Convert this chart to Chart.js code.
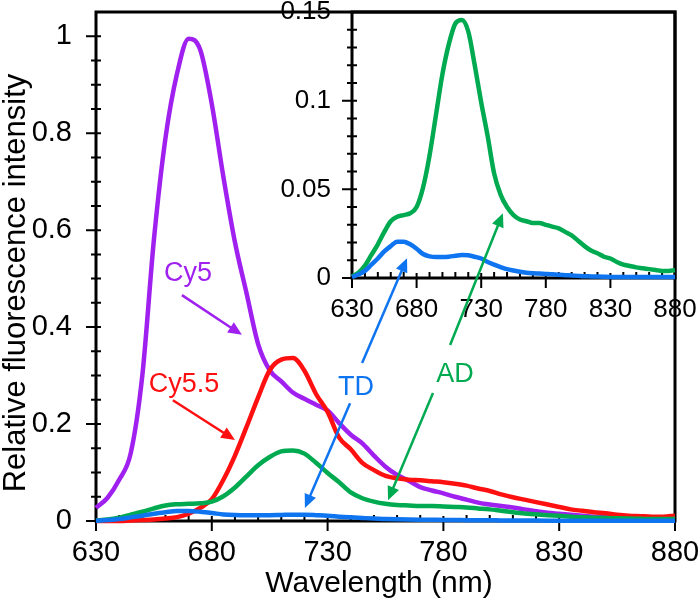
<!DOCTYPE html>
<html>
<head>
<meta charset="utf-8">
<script src="https://cdn.jsdelivr.net/npm/chart.js@4/dist/chart.umd.min.js"></script>
<style>
  html, body { margin: 0; padding: 0; background: #fff; }
  #wrap { position: relative; width: 700px; height: 601px; }
  #wrap canvas { position: absolute; left: 0; top: 0; }
</style>
</head>
<body>
<div id="wrap">
  <canvas id="mainChart" width="700" height="601"></canvas>
  <canvas id="insetChart" width="700" height="601"></canvas>
</div>
<script>
// Emission spectra, every 5 nm
const wavelengths = [630,635,640,645,650,655,660,665,670,675,680,685,690,695,700,705,710,715,720,725,
  730,735,740,745,750,755,760,765,770,775,780,785,790,795,800,805,810,815,820,825,
  830,835,840,845,850,855,860,865,870,875,880];

const cy5 = [0.027,0.048,0.085,0.14,0.30,0.58,0.79,0.923,0.995,0.972,0.86,0.71,0.575,0.47,0.365,0.311,0.288,0.265,0.252,0.24,
  0.228,0.202,0.178,0.16,0.135,0.112,0.095,0.083,0.07,0.063,0.057,0.05,0.044,0.038,0.034,0.031,0.028,0.024,0.02,0.017,
  0.015,0.013,0.011,0.009,0.008,0.007,0.006,0.005,0.005,0.004,0.004];

const cy55 = [0.0,0.0,0.0,0.001,0.002,0.003,0.005,0.008,0.015,0.027,0.045,0.085,0.135,0.194,0.255,0.311,0.333,0.336,0.31,0.262,
  0.225,0.172,0.148,0.12,0.105,0.093,0.088,0.085,0.084,0.082,0.08,0.077,0.073,0.067,0.062,0.055,0.049,0.044,0.039,0.034,
  0.029,0.024,0.021,0.018,0.016,0.013,0.011,0.01,0.009,0.009,0.011];

const ad = [0.001,0.003,0.007,0.013,0.019,0.026,0.032,0.0345,0.0355,0.0365,0.04,0.051,0.069,0.092,0.115,0.132,0.1435,0.1455,0.139,0.12,
  0.099,0.08,0.059,0.047,0.04,0.0355,0.033,0.032,0.031,0.031,0.030,0.029,0.028,0.026,0.024,0.021,0.018,0.0155,0.014,0.012,
  0.011,0.009,0.0075,0.0068,0.006,0.0055,0.005,0.0045,0.004,0.004,0.0045];

const td = [0.0005,0.002,0.004,0.0075,0.011,0.015,0.018,0.0205,0.0205,0.019,0.0165,0.0135,0.0122,0.0118,0.0118,0.012,0.0125,0.013,0.0128,0.012,
  0.011,0.009,0.0075,0.0062,0.005,0.0042,0.0035,0.003,0.0027,0.0025,0.0023,0.0021,0.0018,0.0016,0.0014,0.0012,0.001,0.0009,0.0008,0.0007,
  0.0006,0.0006,0.0006,0.0006,0.0006,0.0006,0.0006,0.0006,0.0006,0.0006,0.0006];

const PURPLE = '#A020F0', RED = '#FF1010', GREEN = '#00AA50', BLUE = '#0F74F0';
const FONT = 'Arial, "Liberation Sans", sans-serif';

// labels and arrows, in main-plot data units (nm, intensity)
const noteTexts = [
  { text: 'Cy5',   at: [669.7, 0.495], color: PURPLE },
  { text: 'Cy5.5', at: [668.0, 0.266], color: RED },
  { text: 'TD',    at: [742.3, 0.260], color: BLUE },
  { text: 'AD',    at: [785.0, 0.287], color: GREEN }
];
const noteArrows = [
  { from: [667.1, 0.466], to: [693.0, 0.384], color: PURPLE },
  { from: [663.2, 0.249], to: [690.0, 0.167], color: RED },
  { from: [744.9, 0.326], to: [764.3, 0.542], color: BLUE },
  { from: [739.7, 0.243], to: [720.2, 0.027], color: BLUE },
  { from: [782.9, 0.363], to: [805.7, 0.635], color: GREEN },
  { from: [775.5, 0.264], to: [756.1, 0.043], color: GREEN }
];

const pts = vals => wavelengths.map((w, i) => ({ x: w, y: vals[i] }));
const series = (label, vals, color) => ({
  label, data: pts(vals), borderColor: color, borderWidth: 4.5, pointRadius: 0,
  cubicInterpolationMode: 'monotone', fill: false, clip: false
});
const fmt = v => String(+v.toFixed(2));

// box + major/minor tick marks, drawn under the curves
const framePlugin = {
  id: 'frame',
  beforeDatasetsDraw(chart, args, o) {
    const { ctx, chartArea: a, scales: { x, y } } = chart;
    ctx.save();
    ctx.strokeStyle = '#000';
    ctx.lineWidth = 3;
    ctx.strokeRect(a.left, a.top, a.right - a.left, a.bottom - a.top);
    ctx.lineWidth = 2;
    ctx.beginPath();
    const nx = Math.round((x.max - x.min) / o.xMinor);
    const kx = Math.round(o.xMajor / o.xMinor);
    for (let i = 0; i <= nx; i++) {
      const px = x.getPixelForValue(x.min + i * o.xMinor);
      const major = i % kx === 0;
      ctx.moveTo(px, a.bottom - (major ? 5 : 6));
      ctx.lineTo(px, a.bottom + (major ? 10 : 0));
    }
    const ny = Math.round((o.yTop - y.min) / o.yMinor);
    const ky = Math.round(o.yMajor / o.yMinor);
    for (let i = 0; i <= ny; i++) {
      const py = y.getPixelForValue(y.min + i * o.yMinor);
      const major = i % ky === 0;
      ctx.moveTo(a.left - (major ? 10 : 5), py);
      ctx.lineTo(a.left + 5, py);
    }
    ctx.stroke();
    ctx.restore();
  }
};

const titlePlugin = {
  id: 'titles',
  afterDraw(chart) {
    const ctx = chart.ctx;
    ctx.save();
    ctx.fillStyle = '#000';
    ctx.textAlign = 'center';
    ctx.textBaseline = 'alphabetic';
    ctx.font = '30px ' + FONT;
    ctx.fillText('Wavelength (nm)', 379, 592);
    ctx.translate(25, 283);
    ctx.rotate(-Math.PI / 2);
    ctx.font = '31px ' + FONT;
    ctx.fillText('Relative fluorescence intensity', 0, 0);
    ctx.restore();
  }
};

function arrow(ctx, x0, y0, x1, y1, color) {
  const ang = Math.atan2(y1 - y0, x1 - x0);
  const len = 15, spread = 0.42;
  ctx.strokeStyle = color;
  ctx.fillStyle = color;
  ctx.lineWidth = 2.5;
  ctx.beginPath();
  ctx.moveTo(x0, y0);
  ctx.lineTo(x1 - (len - 2) * Math.cos(ang), y1 - (len - 2) * Math.sin(ang));
  ctx.stroke();
  ctx.beginPath();
  ctx.moveTo(x1, y1);
  ctx.lineTo(x1 - len * Math.cos(ang - spread), y1 - len * Math.sin(ang - spread));
  ctx.lineTo(x1 - len * Math.cos(ang + spread), y1 - len * Math.sin(ang + spread));
  ctx.closePath();
  ctx.fill();
}

let mainChart = null;
const notesPlugin = {
  id: 'notes',
  afterDraw(chart) {
    if (!mainChart) return;
    const { x, y } = mainChart.scales;
    const ctx = chart.ctx;
    ctx.save();
    noteArrows.forEach(n => arrow(ctx,
      x.getPixelForValue(n.from[0]), y.getPixelForValue(n.from[1]),
      x.getPixelForValue(n.to[0]), y.getPixelForValue(n.to[1]), n.color));
    ctx.font = '27px ' + FONT;
    ctx.textAlign = 'center';
    ctx.textBaseline = 'alphabetic';
    noteTexts.forEach(n => {
      ctx.fillStyle = n.color;
      ctx.fillText(n.text, x.getPixelForValue(n.at[0]), y.getPixelForValue(n.at[1]));
    });
    ctx.restore();
  }
};

function axis(min, max, step, size, pad, fit) {
  return {
    type: 'linear', min, max,
    grid: { display: false, drawTicks: false },
    border: { display: false },
    ticks: { stepSize: step, includeBounds: false, color: '#000', padding: pad, maxRotation: 0,
      font: { family: FONT, size }, callback: fmt },
    afterFit: fit
  };
}

mainChart = new Chart(document.getElementById('mainChart'), {
  type: 'line',
  data: { datasets: [
    series('TD', td, BLUE),
    series('AD', ad, GREEN),
    series('Cy5.5', cy55, RED),
    series('Cy5', cy5, PURPLE)
  ] },
  options: {
    responsive: false, animation: false,
    layout: { padding: { top: 12, right: 25, bottom: 0, left: 0 } },
    plugins: { legend: { display: false }, tooltip: { enabled: false },
      frame: { xMinor: 10, xMajor: 50, yMinor: 0.05, yMajor: 0.2, yTop: 1.0 } },
    scales: {
      x: axis(630, 880, 50, 29, 15, s => { s.height = 80; s.paddingLeft = 0; s.paddingRight = 0; }),
      y: axis(0, 1.05, 0.2, 29, 24, s => { s.width = 96; s.paddingTop = 0; s.paddingBottom = 0; })
    }
  },
  plugins: [framePlugin, titlePlugin]
});

new Chart(document.getElementById('insetChart'), {
  type: 'line',
  data: { datasets: [
    series('TD', td, BLUE),
    series('AD', ad, GREEN)
  ] },
  options: {
    responsive: false, animation: false,
    layout: { padding: { top: 12, right: 25, bottom: 283, left: 262 } },
    plugins: { legend: { display: false }, tooltip: { enabled: false },
      frame: { xMinor: 10, xMajor: 50, yMinor: 0.01, yMajor: 0.05, yTop: 0.15 } },
    scales: {
      x: axis(630, 880, 50, 26, 16, s => { s.height = 40; s.paddingLeft = 0; s.paddingRight = 0; }),
      y: axis(0, 0.15, 0.05, 26, 21, s => { s.width = 90; s.paddingTop = 0; s.paddingBottom = 0; })
    }
  },
  plugins: [framePlugin, notesPlugin]
});
</script>
</body>
</html>
